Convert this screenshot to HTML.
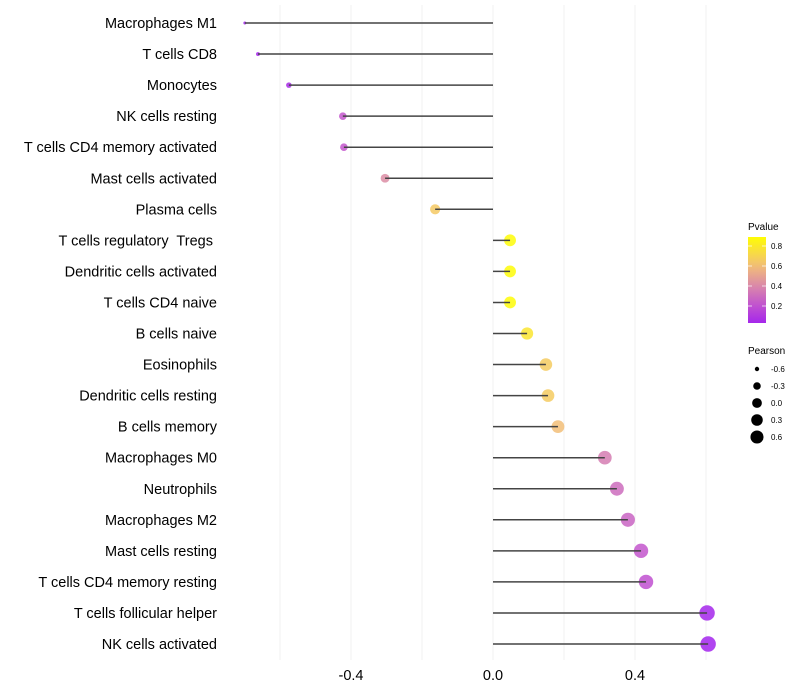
<!DOCTYPE html>
<html><head><meta charset="utf-8"><style>
html,body{margin:0;padding:0;background:#fff;}
svg{display:block;font-family:"Liberation Sans",sans-serif;}
</style></head><body>
<svg id="chart" width="800" height="700"></svg>
<script>
const categories=["Macrophages M1","T cells CD8","Monocytes","NK cells resting","T cells CD4 memory activated","Mast cells activated","Plasma cells","T cells regulatory  Tregs ","Dendritic cells activated","T cells CD4 naive","B cells naive","Eosinophils","Dendritic cells resting","B cells memory","Macrophages M0","Neutrophils","Macrophages M2","Mast cells resting","T cells CD4 memory resting","T cells follicular helper","NK cells activated"];
const pearson=[-0.699,-0.662,-0.575,-0.423,-0.42,-0.304,-0.163,0.048,0.048,0.048,0.096,0.149,0.155,0.183,0.315,0.349,0.38,0.417,0.431,0.603,0.606];
const pvalues=[0.02,0.03,0.05,0.22,0.22,0.42,0.65,0.88,0.88,0.88,0.78,0.66,0.66,0.6,0.36,0.3,0.27,0.22,0.2,0.03,0.02];
const xTicks=[-0.4,0,0.4];
const xTickLabels=["-0.4","0.0","0.4"];
const pLegendVals=[0.8,0.6,0.4,0.2];
const sizeLegendVals=[-0.6,-0.3,0.0,0.3,0.6];
const sizeLegendLabels=["-0.6","-0.3","0.0","0.3","0.6"];

const NS="http://www.w3.org/2000/svg";
const svg=document.getElementById('chart');
function mk(tag,attrs,parent){const e=document.createElementNS(NS,tag);for(const k in attrs)e.setAttribute(k,attrs[k]);(parent||svg).appendChild(e);return e;}
const xs=v=>493+v*355;
const ys=i=>23+i*31.05;
const rs=v=>Math.sqrt(Math.max(2.25,2.25+44*(v+0.7)));
const stops=[[0,[160,32,240]],[0.2,[192,80,208]],[0.4,[218,136,170]],[0.6,[242,190,120]],[0.9,[255,255,0]]];
function pcol(p){for(let i=0;i<stops.length-1;i++){const a=stops[i],b=stops[i+1];if(p<=b[0]||i==stops.length-2){const t=Math.max(0,Math.min(1,(p-a[0])/(b[0]-a[0])));const c=a[1].map((x,j)=>Math.round(x+(b[1][j]-x)*t));return `rgb(${c})`;}}}

for(let g=-0.6;g<=0.61;g+=0.2){const l=mk('line',{x1:xs(g),x2:xs(g),y1:5,y2:660,stroke:'#f0f0f0','stroke-width':1});
}
xTicks.forEach((t,i)=>{const tx=mk('text',{x:xs(t),y:680,'text-anchor':'middle','font-size':14.5,fill:'#000'});tx.textContent=xTickLabels[i];
});

categories.forEach((c,i)=>{
 const y=ys(i);
 const lb=mk('text',{x:217,y:y+5,'text-anchor':'end','font-size':14.5,fill:'#000',style:'white-space:pre'});lb.textContent=c;
 
 const d=mk('circle',{cx:xs(pearson[i]),cy:y,r:rs(pearson[i]),fill:pcol(pvalues[i]),'fill-opacity':0.85});
 
 const ln=mk('line',{x1:xs(0),x2:xs(pearson[i]),y1:y,y2:y,stroke:'#444','stroke-width':1.5});
 
});

const t1=mk('text',{x:748,y:230,'font-size':10,fill:'#000'});t1.textContent='Pvalue';

const defs=mk('defs',{});const gr=mk('linearGradient',{id:'pg',x1:0,y1:1,x2:0,y2:0},defs);
for(let k=0;k<=10;k++){const p=0.03+k*0.086;mk('stop',{offset:k/10,'stop-color':pcol(p)},gr);}
const bar=mk('rect',{x:748,y:237,width:18,height:86,fill:'url(#pg)'});

pLegendVals.forEach(v=>{const y=326-v*100;
 mk('line',{x1:748,x2:752,y1:y,y2:y,stroke:'#fff','stroke-width':0.7});mk('line',{x1:762,x2:766,y1:y,y2:y,stroke:'#fff','stroke-width':0.7});
 const t=mk('text',{x:771,y:y+3,'font-size':8,fill:'#000'});t.textContent=v.toFixed(1);
 });

const t2=mk('text',{x:748,y:354,'font-size':10,fill:'#000'});t2.textContent='Pearson';

sizeLegendVals.forEach((v,i)=>{const y=369+i*17;
 const c=mk('circle',{cx:757,cy:y,r:rs(v)*0.85,fill:'#000'});
 
 const t=mk('text',{x:771,y:y+3,'font-size':8,fill:'#000'});t.textContent=sizeLegendLabels[i];
 });
</script>
</body></html>
